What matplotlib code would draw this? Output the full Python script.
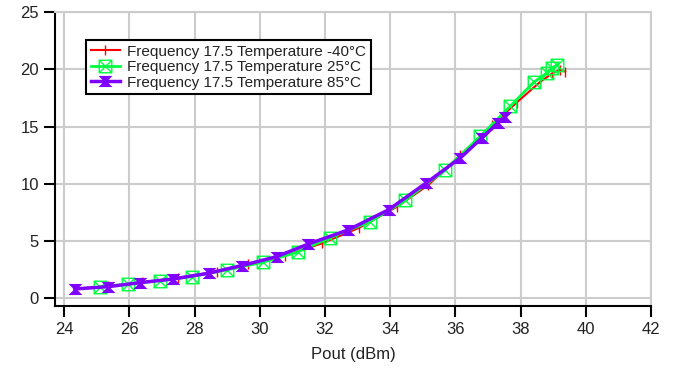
import matplotlib
matplotlib.use("Agg")
import matplotlib.pyplot as plt
from matplotlib.path import Path

plt.rcParams['font.family'] = ['Liberation Sans', 'DejaVu Sans']

# Frequency 17.5, Temperature -40C
red_x = [24.3, 25.35, 26.4, 27.5, 28.68, 29.65, 30.78, 31.9, 33.03, 34.21,
         35.17, 36.15, 37.12, 37.88, 38.6, 38.95, 39.2, 39.37]
red_y = [0.85, 1.05, 1.4, 1.8, 2.34, 2.99, 3.74, 4.8, 6.14, 8.0,
         9.9, 12.5, 15.1, 17.1, 18.9, 19.6, 19.95, 19.8]

# Frequency 17.5, Temperature 25C
green_x = [25.1, 25.97, 26.94, 27.92, 28.99, 30.1, 31.16, 32.16, 33.39, 34.46,
           35.67, 36.76, 37.68, 38.4, 38.81, 38.96, 39.11]
green_y = [1.03, 1.24, 1.56, 1.91, 2.49, 3.16, 4.04, 5.31, 6.71, 8.55,
           11.2, 14.14, 16.77, 18.86, 19.69, 20.12, 20.35]

# Frequency 17.5, Temperature 85C
purple_x = [24.34, 25.36, 26.33, 27.35, 28.43, 29.45, 30.52, 31.49, 32.72, 33.95,
            35.1, 36.15, 36.81, 37.31, 37.53]
purple_y = [0.83, 1.03, 1.38, 1.70, 2.2, 2.87, 3.65, 4.75, 5.99, 7.74,
            10.07, 12.26, 14.0, 15.34, 15.82]

labels = ["Frequency 17.5 Temperature -40\u00b0C",
          "Frequency 17.5 Temperature 25\u00b0C",
          "Frequency 17.5 Temperature 85\u00b0C"]

# square with an X inside
box_x = Path([(-1, -1), (1, -1), (1, 1), (-1, 1), (-1, -1),
              (-1, -1), (1, 1), (-1, 1), (1, -1)],
             [Path.MOVETO, Path.LINETO, Path.LINETO, Path.LINETO, Path.CLOSEPOLY,
              Path.MOVETO, Path.LINETO, Path.MOVETO, Path.LINETO])
# hourglass
hourglass = Path([(-1, 0.8), (1, 0.8), (0.2, 0), (1, -0.8), (-1, -0.8), (-0.2, 0), (-1, 0.8)],
                 [Path.MOVETO] + [Path.LINETO] * 5 + [Path.CLOSEPOLY])

fig = plt.figure(figsize=(6.74, 3.74), dpi=100)
ax = fig.add_axes([55 / 674, 1 - 306 / 374, (651 - 55) / 674, (306 - 12) / 374])

ax.plot(red_x, red_y, color='#ff0000', lw=1.5, marker='|', ms=7, mew=1.0,
        label=labels[0], zorder=3)
ax.plot(green_x, green_y, color='#00ff40', lw=2, marker=box_x, ms=9, mew=1.0,
        mfc='none', label=labels[1], zorder=4)
ax.plot(purple_x, purple_y, color='#8000ff', lw=2.5, marker=hourglass, ms=10,
        mew=0, label=labels[2], zorder=5)

ax.set_xlim(23.72, 42)
ax.set_ylim(-0.66, 25)
ax.set_xticks(range(24, 43, 2))
ax.set_yticks(range(0, 26, 5))
ax.grid(True, color='#cccccc', lw=1.5)
ax.set_axisbelow(True)

for s in ['left', 'bottom']:
    ax.spines[s].set_linewidth(1.5)
    ax.spines[s].set_color('black')
for s in ['top', 'right']:
    ax.spines[s].set_linewidth(1.5)
    ax.spines[s].set_color('#cccccc')

ax.tick_params(axis='both', length=8, width=1.5, labelsize=12, labelcolor='#222222')
ax.set_xlabel("Pout (dBm)", fontsize=12, color='#222222', labelpad=7)

leg = ax.legend(loc='upper left', bbox_to_anchor=(0.052, 0.905), borderaxespad=0,
                fontsize=11, fancybox=False, framealpha=1, edgecolor='black',
                handlelength=1.9, handletextpad=0.5, labelspacing=0.1,
                borderpad=0.3)
leg.get_frame().set_linewidth(1.5)
for t in leg.get_texts():
    t.set_color('#222222')

fig.savefig("out.png", dpi=100)
